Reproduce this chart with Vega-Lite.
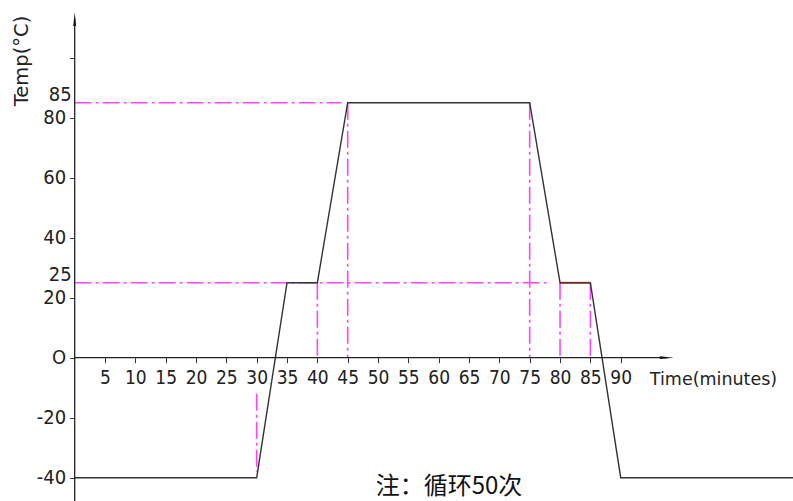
{
  "$schema": "https://vega.github.io/schema/vega-lite/v6.json",
  "width": 793,
  "height": 501,
  "autosize": {"type": "none"},
  "padding": 0,
  "background": "white",
  "config": {"view": {"stroke": null}},
  "datasets": {
    "profile": [
      {"t": 0, "temp": -40},
      {"t": 30, "temp": -40},
      {"t": 35, "temp": 25},
      {"t": 40, "temp": 25},
      {"t": 45, "temp": 85},
      {"t": 75, "temp": 85},
      {"t": 80, "temp": 25},
      {"t": 85, "temp": 25},
      {"t": 90, "temp": -40},
      {"t": 118.5, "temp": -40}
    ],
    "guides": [
      {"t1": 0, "t2": 44, "v1": 85, "v2": 85},
      {"t1": 0, "t2": 78, "v1": 25, "v2": 25},
      {"t1": 30, "t2": 30, "v1": -12, "v2": -38},
      {"t1": 40, "t2": 40, "v1": 25, "v2": 0},
      {"t1": 45, "t2": 45, "v1": 85, "v2": 0},
      {"t1": 75, "t2": 75, "v1": 85, "v2": 0},
      {"t1": 80, "t2": 80, "v1": 25, "v2": 0},
      {"t1": 85, "t2": 85, "v1": 25, "v2": 0}
    ],
    "axislines": [
      {"t1": 0, "t2": 0, "v1": -47.77, "v2": 113},
      {"t1": 0, "t2": 97.6, "v1": 0, "v2": 0}
    ],
    "arrows": [
      {"t": 0, "temp": 112.9, "dir": "up"},
      {"t": 97.6, "temp": 0, "dir": "right"}
    ],
    "marks": [
      {"t": 0, "temp": 85, "label": "85"},
      {"t": 0, "temp": 25, "label": "25"}
    ],
    "notes": [
      {"t": 61.7, "temp": -45.4, "label": "注：循环50次"}
    ],
    "titles": [
      {"t": 94.8, "temp": -7.4, "label": "Time(minutes)"}
    ],
    "ytitle": [
      {"t": -8.69, "temp": 98.9, "label": "Temp(°C)"}
    ]
  },
  "layer": [
    {
      "data": {"name": "guides"},
      "mark": {"type": "rule", "color": "#ff44ff", "strokeWidth": 1.6, "strokeDash": [17, 4, 3, 4]},
      "encoding": {
        "x": {
          "field": "t1", "type": "quantitative", "title": null,
          "scale": {"domain": [-12.31, 118.4], "nice": false, "zero": false},
          "axis": {
            "orient": "bottom", "offset": -143.3, "values": [5, 10, 15, 20, 25, 30, 35, 40, 45, 50, 55, 60, 65, 70, 75, 80, 85, 90],
            "domain": false, "grid": false, "tickSize": 5, "tickColor": "#333333", "tickWidth": 1,
            "labelFont": "DejaVu Sans Condensed", "labelFontSize": 19,
            "labelColor": "#222222", "labelPadding": 6, "title": null, "labelFlush": false, "labelOverlap": false
          }
        },
        "x2": {"field": "t2"},
        "y": {
          "field": "v1", "type": "quantitative", "title": null,
          "scale": {"domain": [-47.77, 119.23], "nice": false, "zero": false},
          "axis": {
            "orient": "left", "offset": -74.7, "values": [100, 80, 60, 40, 20, 0, -20, -40],
            "labelExpr": "datum.value == 100 ? '' : (datum.value == 0 ? 'O' : (datum.value < 0 ? '-' + abs(datum.value) : '' + datum.value))",
            "domain": false, "grid": false, "tickSize": 5, "tickColor": "#333333", "tickWidth": 1,
            "labelFont": "DejaVu Sans Condensed", "labelFontSize": 20,
            "labelColor": "#222222", "labelPadding": 4, "title": null, "labelFlush": false, "labelOverlap": false
          }
        },
        "y2": {"field": "v2"}
      }
    },
    {
      "data": {"name": "profile"},
      "mark": {"type": "line", "color": "#333333", "strokeWidth": 1.4},
      "encoding": {
        "x": {"field": "t", "type": "quantitative", "title": null},
        "y": {"field": "temp", "type": "quantitative", "title": null}
      }
    },
    {
      "data": {"name": "profile"},
      "transform": [{"filter": "datum.t >= 80 && datum.t <= 85"}],
      "mark": {"type": "line", "color": "#7a2020", "strokeWidth": 1.6},
      "encoding": {
        "x": {"field": "t", "type": "quantitative", "title": null},
        "y": {"field": "temp", "type": "quantitative", "title": null}
      }
    },
    {
      "data": {"name": "axislines"},
      "mark": {"type": "rule", "color": "#222222", "strokeWidth": 1.3},
      "encoding": {
        "x": {"field": "t1", "type": "quantitative", "title": null},
        "x2": {"field": "t2"},
        "y": {"field": "v1", "type": "quantitative", "title": null},
        "y2": {"field": "v2"}
      }
    },
    {
      "data": {"name": "arrows"},
      "transform": [{"filter": "datum.dir == 'up'"}],
      "mark": {"type": "point", "shape": "M0,-1L-0.2,1L0.2,1Z", "size": 196, "filled": true, "color": "#111111", "opacity": 1},
      "encoding": {
        "x": {"field": "t", "type": "quantitative", "title": null},
        "y": {"field": "temp", "type": "quantitative", "title": null}
      }
    },
    {
      "data": {"name": "arrows"},
      "transform": [{"filter": "datum.dir == 'right'"}],
      "mark": {"type": "point", "shape": "M1,0L-1,-0.2L-1,0.2Z", "size": 196, "filled": true, "color": "#111111", "opacity": 1},
      "encoding": {
        "x": {"field": "t", "type": "quantitative", "title": null},
        "y": {"field": "temp", "type": "quantitative", "title": null}
      }
    },
    {
      "data": {"name": "marks"},
      "mark": {"type": "text", "align": "right", "baseline": "alphabetic", "dx": -3, "dy": -2, "font": "DejaVu Sans Condensed", "fontSize": 20, "color": "#222222"},
      "encoding": {
        "x": {"field": "t", "type": "quantitative", "title": null},
        "y": {"field": "temp", "type": "quantitative", "title": null},
        "text": {"field": "label"}
      }
    },
    {
      "data": {"name": "titles"},
      "mark": {"type": "text", "align": "left", "baseline": "middle", "font": "DejaVu Sans", "fontSize": 17.5, "color": "#222222"},
      "encoding": {
        "x": {"field": "t", "type": "quantitative", "title": null},
        "y": {"field": "temp", "type": "quantitative", "title": null},
        "text": {"field": "label"}
      }
    },
    {
      "data": {"name": "ytitle"},
      "mark": {"type": "text", "align": "center", "baseline": "middle", "angle": 270, "font": "DejaVu Sans", "fontSize": 19.5, "color": "#222222"},
      "encoding": {
        "x": {"field": "t", "type": "quantitative", "title": null},
        "y": {"field": "temp", "type": "quantitative", "title": null},
        "text": {"field": "label"}
      }
    },
    {
      "data": {"name": "notes"},
      "mark": {"type": "text", "align": "center", "baseline": "alphabetic", "font": "Noto Sans CJK SC", "fontSize": 24, "color": "#111111"},
      "encoding": {
        "x": {"field": "t", "type": "quantitative", "title": null},
        "y": {"field": "temp", "type": "quantitative", "title": null},
        "text": {"field": "label"}
      }
    }
  ]
}
